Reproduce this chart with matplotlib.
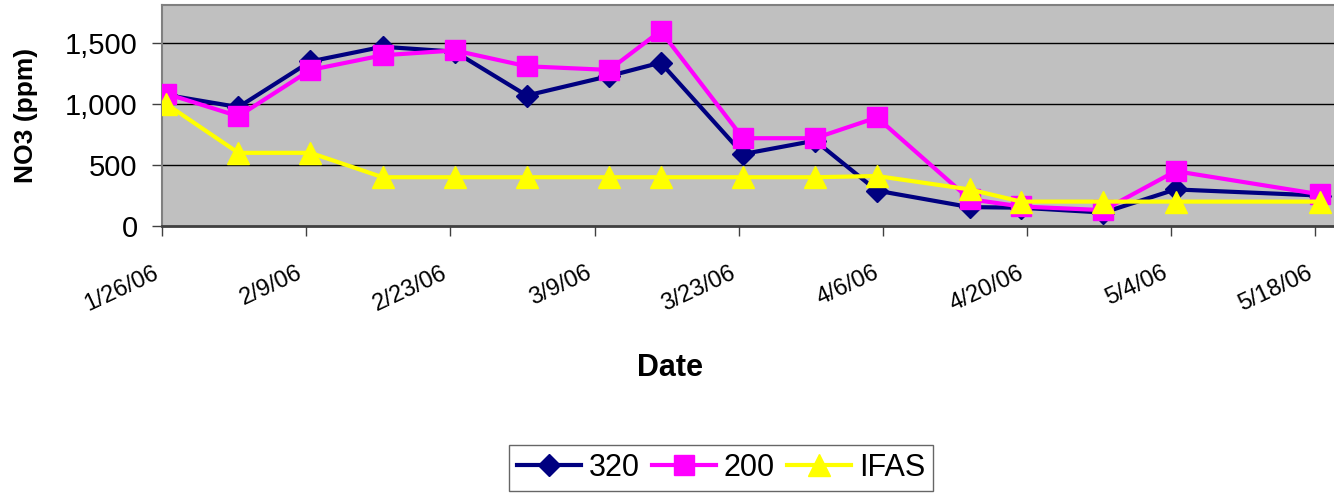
import matplotlib
matplotlib.use("Agg")
import matplotlib.pyplot as plt
import matplotlib.dates as mdates
import matplotlib.transforms as mtransforms
from datetime import datetime

# sampling dates (samples taken mid-morning)
dates = ["2006-01-26", "2006-02-02", "2006-02-09", "2006-02-16", "2006-02-23",
         "2006-03-02", "2006-03-10", "2006-03-15", "2006-03-23", "2006-03-30",
         "2006-04-05", "2006-04-14", "2006-04-19", "2006-04-27", "2006-05-04",
         "2006-05-18"]
sample_time = "10:00"
s320 = [1075, 975, 1350, 1470, 1430, 1070, 1230, 1340, 590, 700,
        290, 155, 150, 110, 300, 250]
s200 = [1085, 900, 1280, 1400, 1440, 1310, 1280, 1600, 720, 720,
        890, 220, 160, 130, 450, 260]
ifas = [1000, 600, 600, 400, 400, 400, 400, 400, 400, 400,
        410, 300, 200, 200, 200, 200]
tick_labels = ["1/26/06", "2/9/06", "2/23/06", "3/9/06", "3/23/06",
               "4/6/06", "4/20/06", "5/4/06", "5/18/06"]
yticks = [0, 500, 1000, 1500]

x = [datetime.strptime(d + " " + sample_time, "%Y-%m-%d %H:%M") for d in dates]
tick_dates = [datetime.strptime(t, "%m/%d/%y") for t in tick_labels]

plt.rcParams['font.family'] = ['Liberation Sans', 'DejaVu Sans']

W, H = 1334, 494
fig = plt.figure(figsize=(W / 100, H / 100), dpi=100)
ax = fig.add_axes([162 / W, 1 - 226 / H, 1 - 162 / W, (226 - 5.3) / H])
ax.set_facecolor('#C0C0C0')

ax.plot(x, s320, color='#000080', lw=3, marker='D', ms=11,
        mfc='#000080', mec='#000080', label='320', zorder=3)
ax.plot(x, s200, color='#FF00FF', lw=3, marker='s', ms=14,
        mfc='#FF00FF', mec='#FF00FF', label='200', zorder=4)
ax.plot(x, ifas, color='#FFFF00', lw=3, marker='^', ms=16,
        mfc='#FFFF00', mec='#FFFF00', label='IFAS', zorder=5)

ax.set_ylim(0, 1810)
ax.set_yticks(yticks)
ax.set_yticklabels([f"{v:,}" for v in yticks])
for v in yticks[1:]:
    ax.axhline(v, color='black', lw=1, zorder=1)

x0 = mdates.date2num(tick_dates[0])
ax.set_xlim(x0, x0 + 113.8)
ax.set_xticks(tick_dates)
ax.set_xticklabels(tick_labels, rotation=25, ha='right', va='top',
                   rotation_mode='default')
shift = mtransforms.ScaledTranslation(-9 / 100, 0, fig.dpi_scale_trans)
for lab in ax.get_xticklabels():
    lab.set_transform(lab.get_transform() + shift)

ax.tick_params(axis='y', direction='out', length=7.5, width=1,
               color='#404040', labelsize=21, pad=10)
ax.tick_params(axis='x', direction='out', length=7, width=1,
               color='#404040', labelsize=17, pad=19)

for side in ['top', 'left']:
    ax.spines[side].set_color('#808080')
    ax.spines[side].set_linewidth(1.5)
ax.spines['bottom'].set_color('#404040')
ax.spines['bottom'].set_linewidth(2)
ax.spines['right'].set_visible(False)

fig.text(26 / W, 1 - 115.5 / H, 'NO3 (ppm)', fontsize=19, fontweight='bold',
         rotation=90, ha='center', va='center')
fig.text(670 / W, 1 - 376 / H, 'Date', fontsize=22, fontweight='bold',
         ha='center', va='baseline')

leg = fig.legend(loc='center', bbox_to_anchor=(721 / W, 1 - 468 / H),
                 ncol=3, fontsize=22, frameon=True, fancybox=False,
                 handlelength=2.1, handletextpad=0.25, columnspacing=0.4,
                 borderpad=0.25, borderaxespad=0)
leg.get_frame().set_edgecolor('#404040')
leg.get_frame().set_linewidth(1)

fig.savefig('out.png', dpi=100, facecolor='white')
